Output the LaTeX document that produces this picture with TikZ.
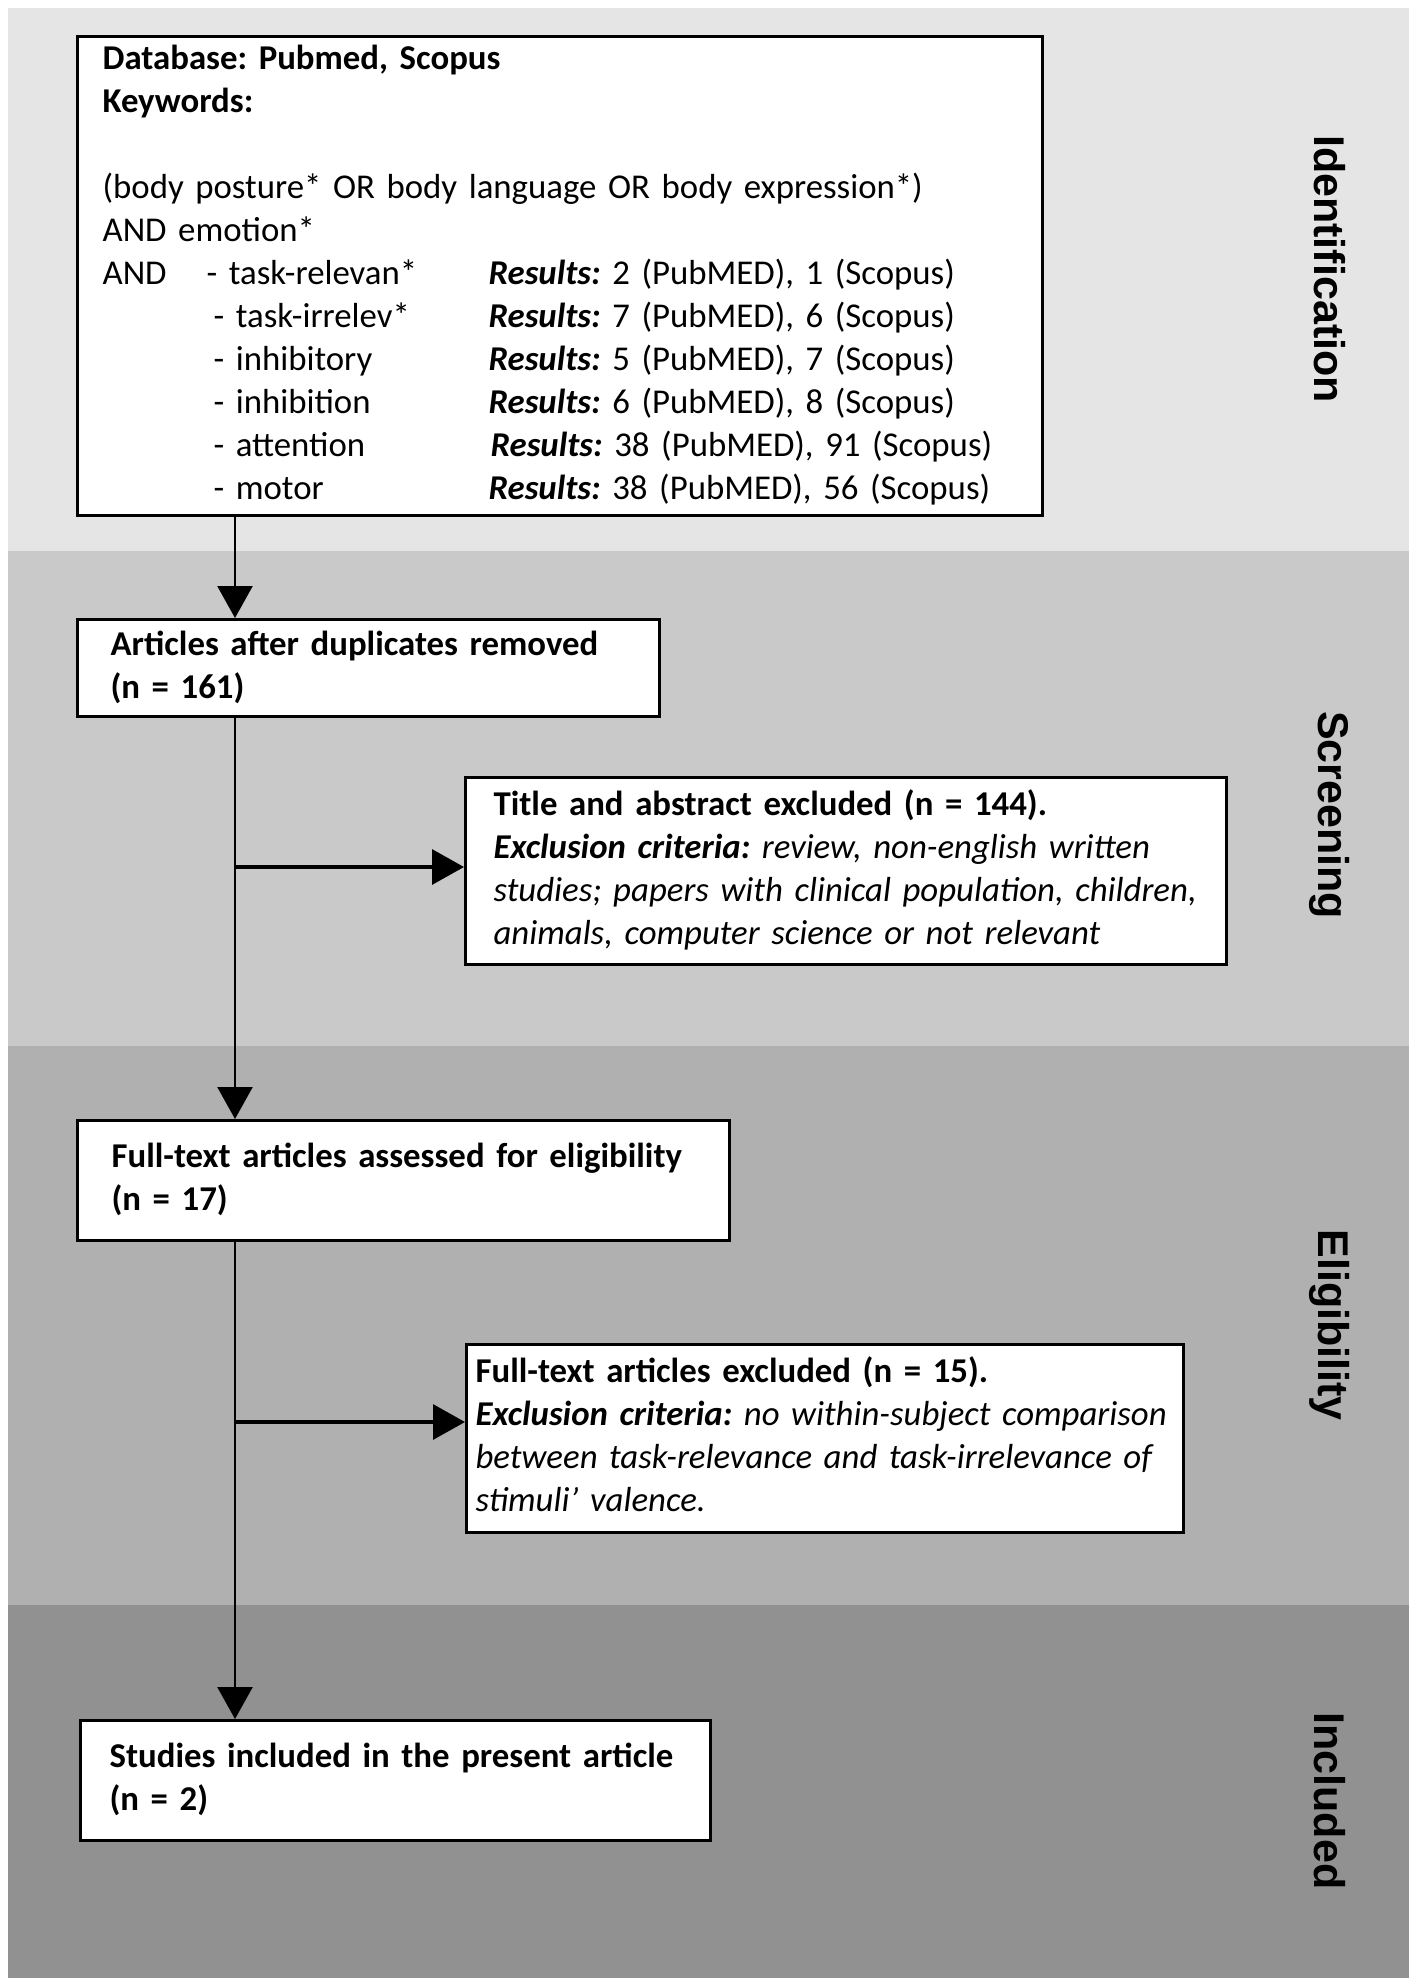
\documentclass[tikz,border=0pt]{standalone}
\usepackage{fontspec}
\setmainfont{Carlito}
\newfontfamily\labelfont{Liberation Sans}
\usetikzlibrary{arrows.meta}
\definecolor{bandA}{HTML}{E5E5E5}
\definecolor{bandB}{HTML}{C9C9C9}
\definecolor{bandC}{HTML}{B0B0B0}
\definecolor{bandD}{HTML}{919191}
\begin{document}
\frenchspacing
\begin{tikzpicture}[x=0.5pt,y=-0.5pt,
  box/.style={draw=black, line width=1.6pt, fill=white, anchor=north west, inner ysep=0pt, align=left, font=\fontsize{17.4}{21.5}\selectfont\frenchspacing},
  phase/.style={rotate=-90, inner sep=0pt, font=\labelfont\bfseries\fontsize{21.5}{25}\selectfont},
  flow/.style={line width=1.2pt, -{Triangle[length=16pt,width=17.5pt]}},
  branch/.style={line width=1.6pt, -{Triangle[length=16pt,width=17.5pt]}},
]
\useasboundingbox (0,0) rectangle (1418,1988);
\fill[white] (0,0) rectangle (1418,1988);
% bands
\fill[bandA] (8,8) rectangle (1409,551);
\fill[bandB] (8,551) rectangle (1409,1046);
\fill[bandC] (8,1046) rectangle (1409,1605);
\fill[bandD] (8,1605) rectangle (1409,1978);

% phase labels
\node[phase] (lid) at (1330,269) {Identification};
\node[phase] (lsc) at (1330,815) {Screening};
\node[phase] (lel) at (1330,1325) {Eligibility};
\node[phase] (lin) at (1330,1801) {Included};

% boxes
\node[box, minimum width=482.5pt, minimum height=239.5pt, text width=457.5pt, inner xsep=12.5pt] (db) at (76,35) {%
\begin{tabular}{@{}p{55.5pt}@{}p{137.5pt}@{}l@{}}
\multicolumn{3}{@{}l@{}}{\textbf{Database: Pubmed, Scopus}}\\
\multicolumn{3}{@{}l@{}}{\textbf{Keywords:}}\\
\multicolumn{3}{@{}l@{}}{}\\
\multicolumn{3}{@{}l@{}}{(body posture* OR body language OR body expression*)}\\
\multicolumn{3}{@{}l@{}}{AND emotion*}\\
AND & \hspace*{-3.5pt}- task-relevan* & \textbf{\textit{Results:}} 2 (PubMED), 1 (Scopus)\\
 & - task-irrelev* & \textbf{\textit{Results:}} 7 (PubMED), 6 (Scopus)\\
 & - inhibitory & \textbf{\textit{Results:}} 5 (PubMED), 7 (Scopus)\\
 & - inhibition & \textbf{\textit{Results:}} 6 (PubMED), 8 (Scopus)\\
 & - attention & \hspace*{1pt}\textbf{\textit{Results:}} 38 (PubMED), 91 (Scopus)\\
 & - motor & \textbf{\textit{Results:}} 38 (PubMED), 56 (Scopus)
\end{tabular}};

\node[box, minimum width=291pt, minimum height=48.5pt, text width=258pt, inner xsep=16.5pt] (dup) at (76,618) {%
\begin{tabular}{@{}l@{}}
\textbf{Articles after duplicates removed}\\
\textbf{(n = 161)}
\end{tabular}};

\node[box, minimum width=380.5pt, minimum height=93.5pt, text width=352.5pt, inner xsep=14pt] (ex1) at (464,776) {%
\begin{tabular}{@{}l@{}}
\textbf{Title and abstract excluded (n = 144).}\\
\textbf{\textit{Exclusion criteria:}} \textit{review, non-english written}\\
\textit{studies; papers with clinical population, children,}\\
\textit{animals, computer science or not relevant}
\end{tabular}};

\node[box, minimum width=326pt, minimum height=60pt, text width=292pt, inner xsep=17pt] (full) at (76,1119) {%
\begin{tabular}{@{}l@{}}
\textbf{Full-text articles assessed for eligibility}\\
\textbf{(n = 17)}
\end{tabular}};

\node[box, minimum width=358.5pt, minimum height=94pt, text width=349.5pt, inner xsep=4.5pt] (ex2) at (465,1343) {%
\begin{tabular}{@{}l@{}}
\textbf{Full-text articles excluded (n = 15).}\\
\textbf{\textit{Exclusion criteria:}} \textit{no within-subject comparison}\\
\textit{between task-relevance and task-irrelevance of}\\
\textit{stimuli’ valence.}
\end{tabular}};

\node[box, minimum width=315pt, minimum height=60pt, text width=286pt, inner xsep=14.5pt] (incl) at (79,1719) {%
\begin{tabular}{@{}l@{}}
\textbf{Studies included in the present article}\\
\textbf{(n = 2)}
\end{tabular}};

% connectors
\coordinate (vx) at (235,0);
\coordinate (b1) at (235,867);
\coordinate (b2) at (235,1422);
\draw[flow] (db.south -| vx) -- (dup.north -| vx);
\draw[flow] (dup.south -| vx) -- (full.north -| vx);
\draw[flow] (full.south -| vx) -- (incl.north -| vx);
\draw[branch] (b1) -- (b1 -| ex1.west);
\draw[branch] (b2) -- (b2 -| ex2.west);
\end{tikzpicture}
\end{document}
